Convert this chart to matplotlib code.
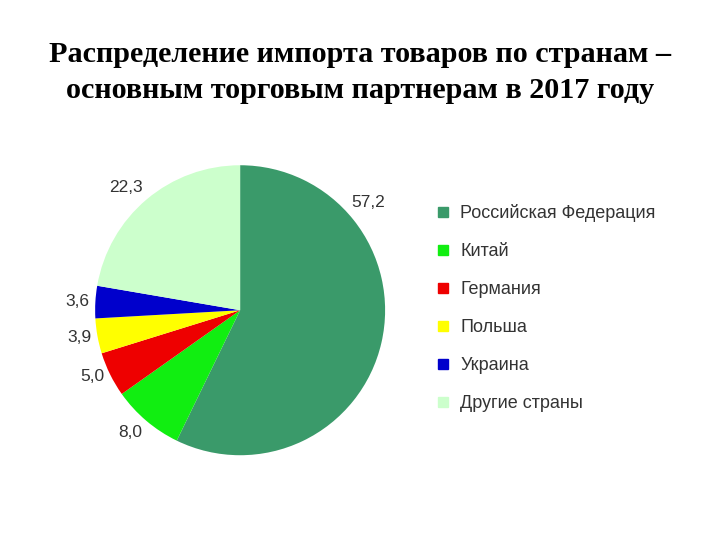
import matplotlib.pyplot as plt
from matplotlib.lines import Line2D

# import shares by country, 2017 (%)
countries = ["Российская Федерация", "Китай", "Германия", "Польша", "Украина", "Другие страны"]
shares = [57.2, 8.0, 5.0, 3.9, 3.6, 22.3]
colors = ["#3a9a6a", "#11ee11", "#ee0000", "#ffff00", "#0000cc", "#ccffcc"]

fig = plt.figure(figsize=(7.2, 5.4), dpi=100)
fig.text(0.5, 0.866, "Распределение импорта товаров по странам –\nосновным торговым партнерам в 2017 году",
         ha="center", va="center", fontsize=21.7, fontweight="bold",
         family="Liberation Serif", linespacing=1.45)

ax = fig.add_axes([0.132, 0.157, 0.403, 0.537])
labels = [f"{v:.1f}".replace(".", ",") for v in shares]
wedges, texts = ax.pie(shares, colors=colors, startangle=90, counterclock=False,
                       labels=labels, labeldistance=1.04,
                       wedgeprops=dict(linewidth=0),
                       textprops=dict(fontsize=12.5, family="Liberation Sans", color="#333333"))
# biggest slice label sits at the upper right, like the original
texts[0].set_position((0.77, 0.74))
texts[0].set_ha("left")
texts[1].set_va("top")
texts[5].set_va("bottom")
ax.set_xlim(-1, 1)
ax.set_ylim(-1, 1)
ax.set_aspect("equal")

handles = [Line2D([], [], marker="s", linestyle="none", markersize=7,
                  markerfacecolor=c, markeredgecolor=c) for c in colors]
fig.legend(handles, countries, loc="upper left", bbox_to_anchor=(0.58, 0.652),
           frameon=False, labelspacing=1.16, handletextpad=0.45, handlelength=1.0,
           prop=dict(family="Liberation Sans", size=13), labelcolor="#333333")

fig.savefig("out.png", dpi=100)
